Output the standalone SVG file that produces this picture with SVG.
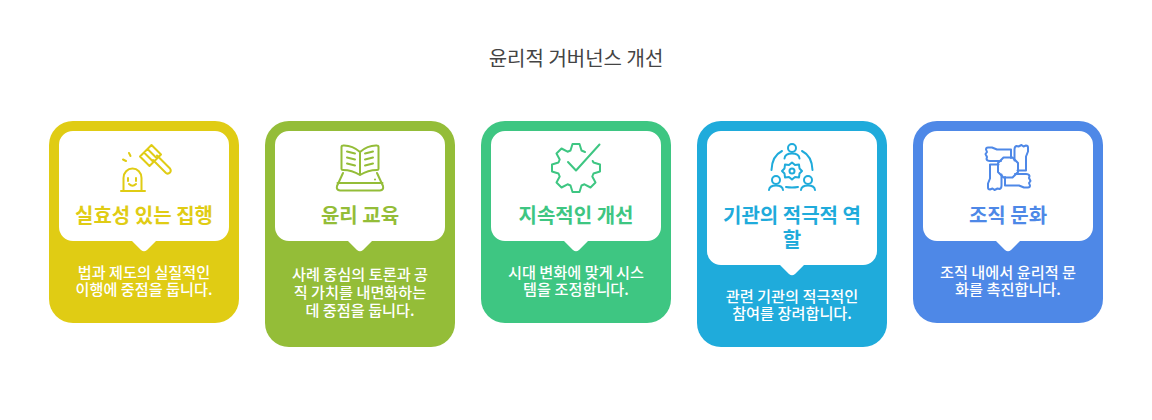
<svg xmlns="http://www.w3.org/2000/svg" width="1152" height="420" viewBox="0 0 1152 420">
<style>
text{font-family:"Noto Sans CJK KR","Noto Sans",sans-serif;text-anchor:middle}
.t{font-size:20px;fill:#444}
.h{font-size:20px;font-weight:700}
.d{font-size:15.2px;font-weight:500;fill:#fff}
.i{fill:none;stroke-width:2;stroke-linecap:round;stroke-linejoin:round}
.b{fill:#fff}
</style>
<defs>
<path id="arm" d="M1011 158V149.500H997L992 147.500H988Q986 147.500 986 149.500L987 152L985.500 154L987 157L986.500 159Q987 161 990 161H1001"/>
</defs>
<rect width="1152" height="420" fill="#fff"/>
<text class="t" x="576" y="66">윤리적 거버넌스 개선</text>
<g id="node-1">
<rect x="49" y="121" width="190" height="202" rx="24" fill="#E0CC14"/>
<path class="b" d="M73 131H215a14 14 0 0 1 14 14V227a14 14 0 0 1-14 14H156L147 250Q144 252.500 141 250L132 241H73a14 14 0 0 1-14-14V145a14 14 0 0 1 14-14Z"/>
<g class="i" stroke="#E0CC14">
<path d="M121 191H145M123.500 191V178a9 9.500 0 0 1 18 0V191M128 178v3M136 178v3M129 184q3.500 3.500 7 0M126 161l-3-1.500M130.500 156l-1.500-3"/>
<path d="M140 156.500L149.500 166L161 154.500L151.500 145ZM144 152.500L153.500 162M147.500 149L157 158.500M153 160L166 173Q168 174.500 170 172.500Q171.500 170.500 170 168.500L157 155.500"/>
</g>
<text class="h" x="144" y="223" fill="#E0CC14">실효성 있는 집행</text>
<text class="d"><tspan x="144" y="278">법과 제도의 실질적인</tspan><tspan x="144" y="295">이행에 중점을 둡니다.</tspan></text>
</g>
<g id="node-2">
<rect x="265" y="121" width="190" height="226" rx="24" fill="#94BD38"/>
<path class="b" d="M289 131H431a14 14 0 0 1 14 14V227a14 14 0 0 1-14 14H372L363 250Q360 252.500 357 250L348 241H289a14 14 0 0 1-14-14V145a14 14 0 0 1 14-14Z"/>
<g class="i" stroke="#94BD38">
<path d="M360 175V152Q352 145 343 145.500Q341.500 145.500 341.500 147V169Q341.500 170 343 170Q352 170 360 175ZM360 175V152Q368 145 377 145.500Q378.500 145.500 378.500 147V169Q378.500 170 377 170Q368 170 360 175Z"/>
<path d="M347 151.500L355 153.500M347 157.500L355 159.500M347 163.500L355 165.500M373 151.500L365 153.500M373 157.500L365 159.500M373 163.500L365 165.500"/>
<path d="M343 173L337 186Q336 190 340 190.500H380Q384 190 383 186L377 173M337.500 183H382.500M375 179.500v.1"/>
</g>
<text class="h" x="360" y="223" fill="#94BD38">윤리 교육</text>
<text class="d"><tspan x="360" y="280">사례 중심의 토론과 공</tspan><tspan x="360" y="298">직 가치를 내면화하는</tspan><tspan x="360" y="316">데 중점을 둡니다.</tspan></text>
</g>
<g id="node-3">
<rect x="481" y="121" width="190" height="202" rx="24" fill="#3EC682"/>
<path class="b" d="M505 131H647a14 14 0 0 1 14 14V227a14 14 0 0 1-14 14H588L579 250Q576 252.500 573 250L564 241H505a14 14 0 0 1-14-14V145a14 14 0 0 1 14-14Z"/>
<g class="i" stroke="#3EC682">
<path d="M568 162L576 170.500L599.500 144.500"/>
<path d="M585 152L581.500 150.500L579.500 144H572.500L570.500 150.500L567.500 151.700L561.500 148.500L556.500 153.500L559.700 159.500L558.500 162.500L552 164.500V171.500L558.500 173.500L559.700 176.500L556.500 182.500L561.500 187.500L567.500 184.300L570.500 185.500L572.500 192H579.500L581.500 185.500L584.500 184.300L590.500 187.500L595.500 182.500L592.300 176.500L593.500 173.500L600 171.500V164.500L593.500 162.500L592.700 161"/>
</g>
<text class="h" x="576" y="223" fill="#3EC682">지속적인 개선</text>
<text class="d"><tspan x="576" y="278">시대 변화에 맞게 시스</tspan><tspan x="576" y="295">템을 조정합니다.</tspan></text>
</g>
<g id="node-4">
<rect x="697" y="121" width="190" height="226" rx="24" fill="#1FABDB"/>
<path class="b" d="M721 131H863a14 14 0 0 1 14 14V251a14 14 0 0 1-14 14H804L795 274Q792 276.500 789 274L780 265H721a14 14 0 0 1-14-14V145a14 14 0 0 1 14-14Z"/>
<g class="i" stroke="#1FABDB">
<circle cx="792" cy="148" r="4"/>
<path d="M784.500 158.500Q785 153.500 792 153.500Q799 153.500 799.500 158.500"/>
<path d="M782 151Q772 156 771.500 170M802 151Q812 156 812.500 170"/>
<path d="M792 162.500L795 165L799 164.500L799.500 168.500L802 171L799.500 173.500L799 177.500L795 177L792 179.500L789 177L785 177.500L784.500 173.500L782 171L784.500 168.500L785 164.500L789 165Z"/>
<circle cx="792" cy="171" r="2.500"/>
<circle cx="776" cy="180" r="4"/>
<path d="M769 190Q769.500 185.500 776 185.500Q782.500 185.500 783 190"/>
<circle cx="808" cy="180" r="4"/>
<path d="M801 190Q801.500 185.500 808 185.500Q814.500 185.500 815 190M786 187Q792 188 798 187"/>
</g>
<text class="h" x="792" y="223" fill="#1FABDB">기관의 적극적 역</text>
<text class="h" x="792" y="247" fill="#1FABDB">할</text>
<text class="d"><tspan x="792" y="302">관련 기관의 적극적인</tspan><tspan x="792" y="319">참여를 장려합니다.</tspan></text>
</g>
<g id="node-5">
<rect x="913" y="121" width="190" height="202" rx="24" fill="#4E88E7"/>
<path class="b" d="M937 131H1079a14 14 0 0 1 14 14V227a14 14 0 0 1-14 14H1020L1011 250Q1008 252.500 1005 250L996 241H937a14 14 0 0 1-14-14V145a14 14 0 0 1 14-14Z"/>
<g class="i" stroke="#4E88E7">
<path d="M1003.500 157.500H1012.500L1018 163V172L1012.500 177.500H1003.500L998 172V163Z"/>
<use href="#arm"/>
<use href="#arm" transform="rotate(90 1008 167.500)"/>
<use href="#arm" transform="rotate(180 1008 167.500)"/>
<use href="#arm" transform="rotate(270 1008 167.500)"/>
</g>
<text class="h" x="1008" y="223" fill="#4E88E7">조직 문화</text>
<text class="d"><tspan x="1008" y="278">조직 내에서 윤리적 문</tspan><tspan x="1008" y="295">화를 촉진합니다.</tspan></text>
</g>
<g id="connectors"></g>
</svg>
